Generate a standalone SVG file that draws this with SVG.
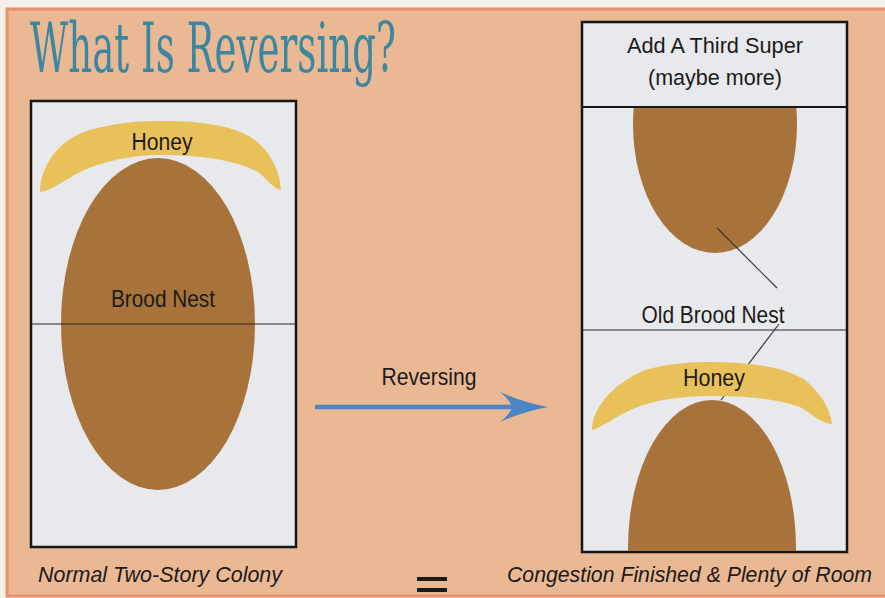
<svg xmlns="http://www.w3.org/2000/svg" width="885" height="598" viewBox="0 0 885 598">
  <style>
    .lbl { font-family: "Liberation Sans", Arial, sans-serif; fill: #1c1a1a; text-anchor: middle; }
    .cap { font-family: "Liberation Sans", Arial, sans-serif; font-style: italic; fill: #1c1a1a; }
    .box { fill: #e7e9ec; stroke: #161616; stroke-width: 2.5; }
    .honey { fill: #e9c15b; }
    .brood { fill: #a8733a; }
    .div { stroke: #2a2a2a; stroke-width: 1.2; }
    .leader { stroke: #3a3a3a; stroke-width: 1.2; fill: none; }
  </style>
  <defs>
    <clipPath id="upperR"><rect x="583" y="108" width="263" height="222"/></clipPath>
    <clipPath id="lowerR"><rect x="583" y="330" width="263" height="221"/></clipPath>
    <clipPath id="leftBox"><rect x="32" y="102" width="263" height="444"/></clipPath>
  </defs>

  <!-- background -->
  <rect x="0" y="0" width="885" height="598" fill="#f4efe9"/>
  <rect x="7" y="9" width="890" height="587" fill="#eab994" stroke="#e8926a" stroke-width="3"/>

  <!-- title -->
  <text x="30" y="72" font-family="'DejaVu Serif', 'Liberation Serif', serif" font-stretch="condensed" font-size="70" fill="#3b87a2" textLength="366" lengthAdjust="spacingAndGlyphs">What Is Reversing?</text>

  <!-- left colony -->
  <g id="left-colony">
    <rect class="box" x="31" y="101" width="265" height="446"/>
    <g clip-path="url(#leftBox)">
      <ellipse class="brood" cx="158" cy="324" rx="97" ry="166"/>
    </g>
    <path class="honey" d="M40,192 C40,170 55,140 90,130 C120,122 140,121 162,121 C200,121 235,125 255,140 C270,152 280,170 281,190 C274,189 268,180 258,172 C235,160 200,155 162,155 C130,155 100,162 80,172 C65,180 52,190 40,192 Z"/>
    <line class="div" x1="32" y1="324" x2="295" y2="324"/>
    <text class="lbl" x="162" y="150" font-size="23" textLength="61" lengthAdjust="spacingAndGlyphs">Honey</text>
    <text class="lbl" x="163" y="307" font-size="24" textLength="104" lengthAdjust="spacingAndGlyphs">Brood Nest</text>
  </g>

  <!-- right colony -->
  <g id="right-colony">
    <rect class="box" x="582" y="22" width="265" height="530"/>
    <line x1="583" y1="107" x2="846" y2="107" stroke="#161616" stroke-width="2"/>
    <text class="lbl" x="715" y="53" font-size="22" textLength="176" lengthAdjust="spacingAndGlyphs">Add A Third Super</text>
    <text class="lbl" x="715" y="85" font-size="22" textLength="134" lengthAdjust="spacingAndGlyphs">(maybe more)</text>
    <g clip-path="url(#upperR)">
      <ellipse class="brood" cx="715" cy="124" rx="82" ry="129"/>
    </g>
    <g clip-path="url(#lowerR)">
      <ellipse class="brood" cx="712" cy="548" rx="84" ry="148"/>
    </g>
    <line class="div" x1="583" y1="330" x2="846" y2="330"/>
    <g id="leaders">
      <line class="leader" x1="717" y1="228" x2="777" y2="288"/>
      <line class="leader" x1="779" y1="324" x2="721" y2="400"/>
    </g>
    <path class="honey" d="M592,430 C592,410 610,385 645,370 C670,363 690,362 712,362 C750,362 785,367 805,380 C820,392 830,408 832,424 C822,424 812,414 800,407 C775,398 745,396 712,396 C680,396 655,400 635,408 C615,416 602,428 592,430 Z"/>
    <text class="lbl" x="714" y="386" font-size="24" textLength="62" lengthAdjust="spacingAndGlyphs">Honey</text>
    <text class="lbl" x="713" y="323" font-size="24" textLength="143" lengthAdjust="spacingAndGlyphs">Old Brood Nest</text>
  </g>

  <!-- connector -->
  <g id="connectors">
    <line x1="315" y1="407" x2="512" y2="407" stroke="#4a86c4" stroke-width="4.5"/>
    <path d="M500,392 Q522,402 548,407 Q522,412 500,422 Q510,414 512,407 Q510,400 500,392 Z" fill="#4a86c4"/>
    <text class="lbl" x="429" y="385" font-size="24" textLength="95" lengthAdjust="spacingAndGlyphs">Reversing</text>
  </g>

  <!-- captions -->
  <g id="captions">
    <text class="cap" x="38" y="582" font-size="22" textLength="244" lengthAdjust="spacingAndGlyphs">Normal Two-Story Colony</text>
    <text class="cap" x="507" y="582" font-size="22" textLength="365" lengthAdjust="spacingAndGlyphs">Congestion Finished &amp; Plenty of Room</text>
    <rect x="417" y="577" width="30" height="4" fill="#1c1a1a"/>
    <rect x="417" y="588" width="30" height="4" fill="#1c1a1a"/>
  </g>
</svg>
